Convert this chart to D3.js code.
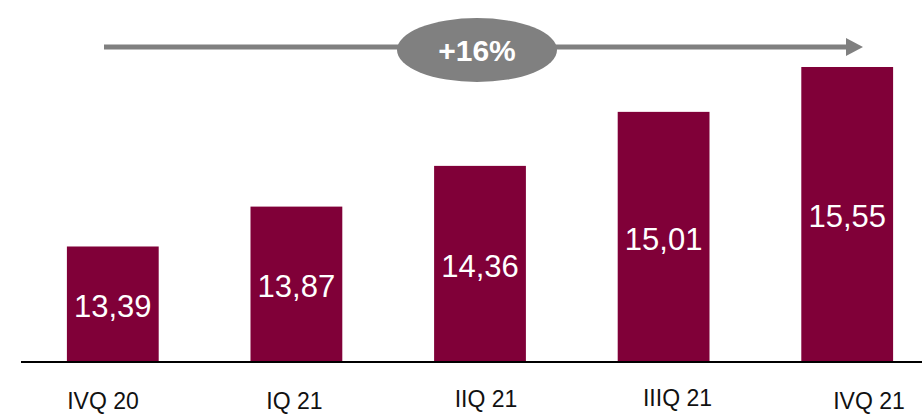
<!DOCTYPE html>
<html>
<head>
<meta charset="utf-8">
<script src="https://cdn.jsdelivr.net/npm/d3@7"></script>
<style>
  html, body { margin: 0; padding: 0; background: #fff; }
  svg { display: block; font-family: "Liberation Sans", Arial, sans-serif; }
</style>
</head>
<body>
<svg id="chart" width="922" height="414"></svg>
<script>
// Quarterly values (comma used as decimal separator in labels)
const quarters = ["IVQ 20", "IQ 21", "IIQ 21", "IIIQ 21", "IVQ 21"];
const values = [13.39, 13.87, 14.36, 15.01, 15.55];
const growthLabel = "+16%";

const W = 922, H = 414;
const baseY = 362;
const barColor = "#800038";
const grey = "#808080";

const svg = d3.select("#chart");
const fmt = v => d3.format(".2f")(v).replace(".", ",");

// Bars sit on a truncated value axis starting at 12
const x = d3.scaleBand()
  .domain(quarters)
  .range([21, 939])
  .paddingInner(0.5)
  .paddingOuter(0.25);

const y = d3.scaleLinear()
  .domain([12, 16])
  .range([baseY, baseY - 332.4]);

// Category labels are spread on their own slightly wider spacing
const xLab = d3.scalePoint()
  .domain(quarters)
  .range([103, 869]);
const labDy = [0, 0, -2, -3, 0];

svg.append("g")
  .selectAll("rect")
  .data(values)
  .join("rect")
  .attr("x", (d, i) => x(quarters[i]))
  .attr("y", d => y(d))
  .attr("width", x.bandwidth())
  .attr("height", d => baseY - y(d))
  .attr("fill", barColor);

svg.append("g")
  .selectAll("text")
  .data(values)
  .join("text")
  .attr("x", (d, i) => x(quarters[i]) + x.bandwidth() / 2)
  .attr("y", d => (y(d) + baseY) / 2 + 1.5)
  .attr("dy", "0.36em")
  .attr("text-anchor", "middle")
  .attr("fill", "#fff")
  .attr("font-size", 31)
  .text(d => fmt(d));

// Baseline
svg.append("line")
  .attr("x1", 21).attr("x2", W)
  .attr("y1", baseY).attr("y2", baseY)
  .attr("stroke", "#000")
  .attr("stroke-width", 2);

// Category labels
svg.append("g")
  .selectAll("text")
  .data(quarters)
  .join("text")
  .attr("x", d => xLab(d))
  .attr("y", (d, i) => 409 + labDy[i])
  .attr("text-anchor", "middle")
  .attr("fill", "#111")
  .attr("font-size", 23)
  .text(d => d);

// Growth arrow with the ellipse badge
const arrowY = 47;
svg.append("line")
  .attr("x1", 104).attr("x2", 848)
  .attr("y1", arrowY).attr("y2", arrowY)
  .attr("stroke", grey)
  .attr("stroke-width", 5);

svg.append("path")
  .attr("d", `M846,${arrowY - 9} L863,${arrowY} L846,${arrowY + 9} Z`)
  .attr("fill", grey);

svg.append("ellipse")
  .attr("cx", 477).attr("cy", 50)
  .attr("rx", 80).attr("ry", 32)
  .attr("fill", grey);

svg.append("text")
  .attr("x", 477).attr("y", 60.5)
  .attr("text-anchor", "middle")
  .attr("fill", "#fff")
  .attr("font-weight", "bold")
  .attr("font-size", 30)
  .text(growthLabel);
</script>
</body>
</html>
